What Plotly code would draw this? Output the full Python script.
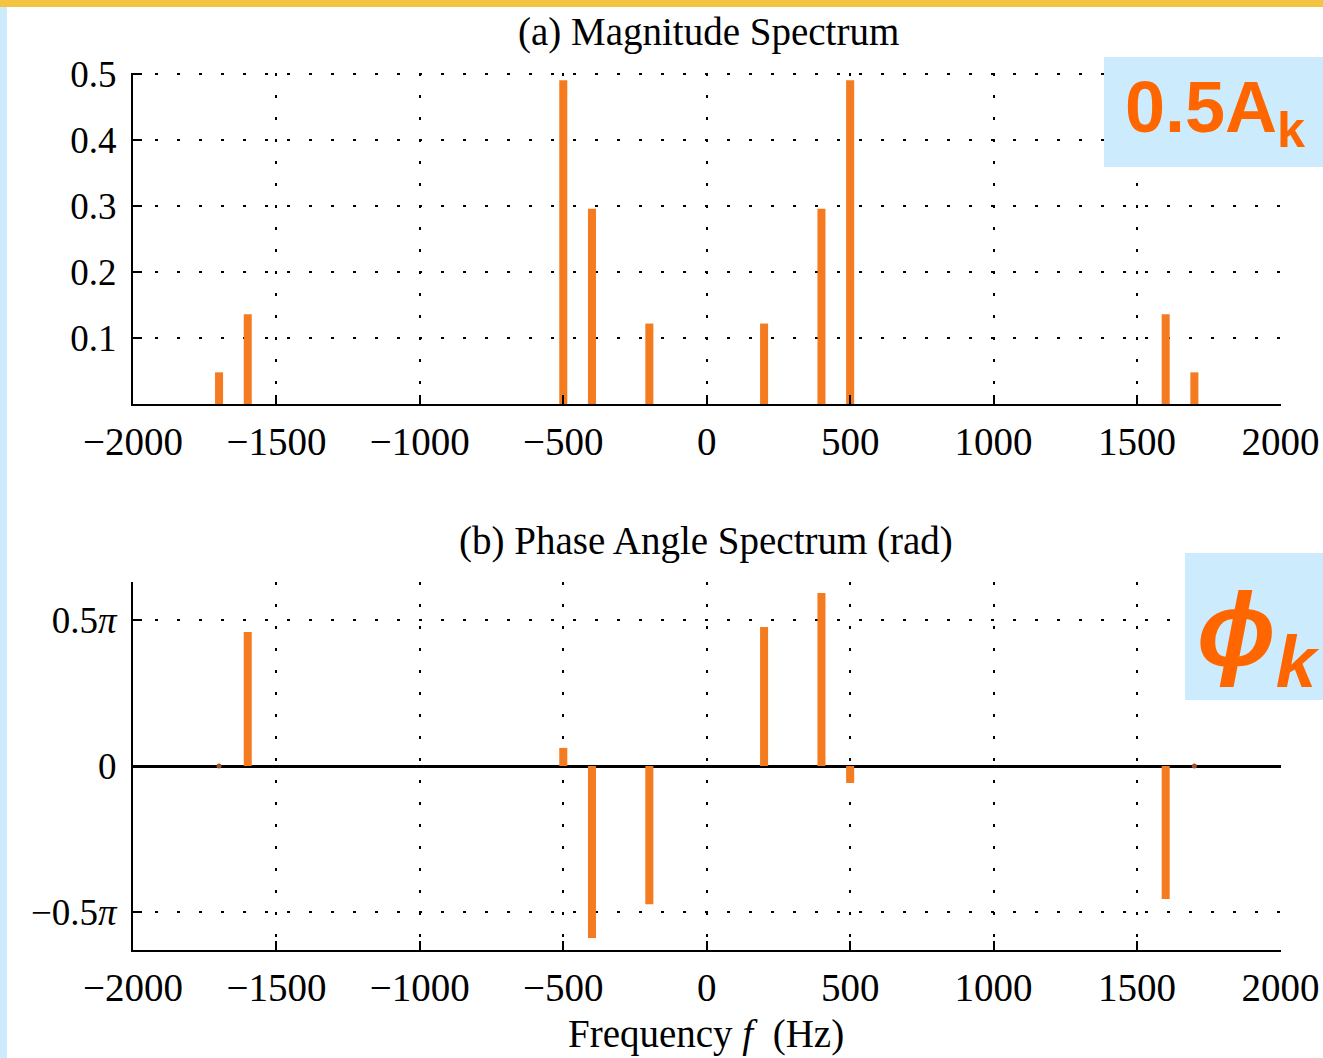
import plotly.graph_objects as go

# ---- data ----
freqs = [-1700, -1600, -500, -400, -200, 200, 400, 500, 1600, 1700]
magnitude = [0.048, 0.136, 0.491, 0.296, 0.122, 0.122, 0.296, 0.491, 0.136, 0.048]
phase_pi = [0.0, 0.459, 0.062, -0.589, -0.473, 0.476, 0.592, -0.058, -0.455, 0.0]
x_ticks = [-2000, -1500, -1000, -500, 0, 500, 1000, 1500, 2000]
mag_ticks = [0.1, 0.2, 0.3, 0.4, 0.5]
phase_tickvals = [-0.5, 0, 0.5]
phase_ticktext = ["\u22120.5<i>\u03c0</i>", "0", "0.5<i>\u03c0</i>"]

W, H = 1323, 1058
BAR = "#F47B20"
SERIF = "Liberation Serif"

def px(x):
    return x / W

def py(y):
    return 1 - y / H

fig = go.Figure()
fig.add_trace(go.Bar(x=freqs, y=magnitude, width=28, marker=dict(color=BAR, line=dict(width=0)),
                     xaxis="x", yaxis="y", showlegend=False))
fig.add_trace(go.Bar(x=freqs, y=phase_pi, width=28, marker=dict(color=BAR, line=dict(width=0)),
                     xaxis="x2", yaxis="y2", showlegend=False))
zx = [f for f, p in zip(freqs, phase_pi) if p == 0]
zy = [p for p in phase_pi if p == 0]
fig.add_trace(go.Scatter(x=zx, y=zy, mode="markers", marker=dict(color="#A0522D", size=5),
                         xaxis="x2", yaxis="y2", showlegend=False))

grid_dash = "2.5px,19.5px"
common_x = dict(range=[-2000, 2002], tickvals=x_ticks, ticks="inside", ticklen=9, tickwidth=2,
                tickcolor="black", showline=True, linecolor="black", linewidth=2,
                showgrid=True, gridcolor="black", gridwidth=2, griddash=grid_dash,
                zeroline=False, tickfont=dict(family=SERIF, size=39, color="black"),
                ticklabelstandoff=2, automargin=False, fixedrange=True)

common_y = dict(ticks="inside", ticklen=9, tickwidth=2, tickcolor="black",
                showline=True, linecolor="black", linewidth=2, showgrid=True, gridcolor="black",
                gridwidth=2, griddash=grid_dash, automargin=False, ticklabelstandoff=7,
                tickfont=dict(family=SERIF, size=37, color="black"), fixedrange=True)

fig.update_layout(
    template="none",
    width=W, height=H,
    margin=dict(l=0, r=0, t=0, b=0, autoexpand=False),
    paper_bgcolor="white", plot_bgcolor="white",
    barmode="overlay",
    xaxis=dict(domain=[px(133), px(1281)], anchor="y", **common_x),
    yaxis=dict(domain=[py(404), py(73)], anchor="x", range=[0, 0.502], tickvals=mag_ticks,
               tickformat=".1f", zeroline=False, **common_y),
    xaxis2=dict(domain=[px(133), px(1281)], anchor="y2", **common_x),
    yaxis2=dict(domain=[py(950), py(582)], anchor="x2", range=[-0.63, 0.63],
                tickvals=phase_tickvals, ticktext=phase_ticktext,
                zeroline=True, zerolinecolor="black", zerolinewidth=2.5, **common_y),
)

shapes = [
    dict(type="rect", xref="paper", yref="paper", x0=0, x1=px(7), y0=0, y1=1,
         fillcolor="#CCEBFC", line=dict(width=0), layer="below"),
    dict(type="rect", xref="paper", yref="paper", x0=0, x1=1, y0=py(7), y1=1,
         fillcolor="#F5C342", line=dict(width=0), layer="below"),
    dict(type="rect", xref="paper", yref="paper", x0=px(1104), x1=1, y0=py(167), y1=py(57),
         fillcolor="#CCEBFC", line=dict(width=0), layer="above"),
    dict(type="rect", xref="paper", yref="paper", x0=px(1185), x1=1, y0=py(700), y1=py(553),
         fillcolor="#CCEBFC", line=dict(width=0), layer="above"),
]
fig.update_layout(shapes=shapes)

ann = [
    dict(text="(a) Magnitude Spectrum", x=px(708), y=py(32), font=dict(family=SERIF, size=39, color="black")),
    dict(text="(b) Phase Angle Spectrum (rad)", x=px(706), y=py(541), font=dict(family=SERIF, size=39, color="black")),
    dict(text="Frequency <i>f</i>  (Hz)", x=px(706), y=py(1034), font=dict(family=SERIF, size=39, color="black")),
    dict(text="<b>0.5A<sub>k</sub></b>", x=px(1215), y=py(112), font=dict(family="Liberation Sans", size=72, color="#FF6600")),
    dict(text="<b><i>\u03d5<sub>k</sub></i></b>", x=px(1258), y=py(636), font=dict(family="Liberation Sans", size=104, color="#FF6600")),
]
for a in ann:
    a.update(xref="paper", yref="paper", showarrow=False, xanchor="center", yanchor="middle")
fig.update_layout(annotations=ann)

fig.write_html("out.html", config={"displayModeBar": False},
               post_script="document.body.style.margin='0';document.body.style.overflow='hidden';")
